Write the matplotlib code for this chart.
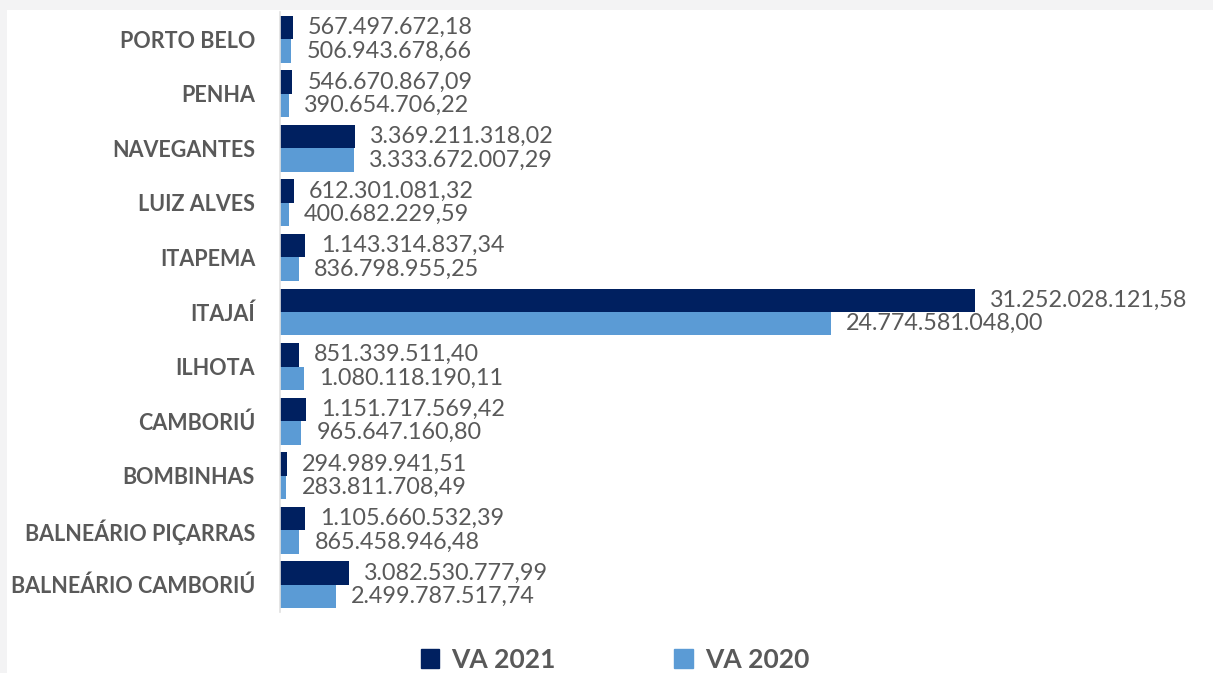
import matplotlib.pyplot as plt
from matplotlib.patches import Rectangle, Patch

municipios = ['PORTO BELO', 'PENHA', 'NAVEGANTES', 'LUIZ ALVES', 'ITAPEMA', 'ITAJAÍ',
              'ILHOTA', 'CAMBORIÚ', 'BOMBINHAS', 'BALNEÁRIO PIÇARRAS', 'BALNEÁRIO CAMBORIÚ']
va_2021 = [567497672.18, 546670867.09, 3369211318.02, 612301081.32, 1143314837.34,
           31252028121.58, 851339511.40, 1151717569.42, 294989941.51, 1105660532.39,
           3082530777.99]
va_2020 = [506943678.66, 390654706.22, 3333672007.29, 400682229.59, 836798955.25,
           24774581048.00, 1080118190.11, 965647160.80, 283811708.49, 865458946.48,
           2499787517.74]

DARK = '#002060'
LIGHT = '#5b9bd5'
TXT = '#595959'
FONT = 'Lato'


def fmt_br(v):
    s = f'{v:,.2f}'
    return s.replace(',', 'X').replace('.', ',').replace('X', '.')


fig = plt.figure(figsize=(12.13, 6.73), dpi=100)
fig.patch.set_facecolor('#f3f3f4')
fig.add_artist(Rectangle((7 / 1213, 0), 1, 1 - 10 / 673, transform=fig.transFigure,
                         facecolor='white', edgecolor='none', zorder=0))

ax = fig.add_axes([280 / 1213, 1 - 612 / 673, 1 - 280 / 1213, 600 / 673])
ax.set_facecolor('none')

h = 0.43
pos = list(range(len(municipios)))
b1 = ax.barh([p - h / 2 for p in pos], va_2021, height=h, color=DARK)
b2 = ax.barh([p + h / 2 for p in pos], va_2020, height=h, color=LIGHT)

for bars, vals in ((b1, va_2021), (b2, va_2020)):
    ax.bar_label(bars, labels=[fmt_br(v) for v in vals], padding=11,
                 fontsize=16.8, color=TXT, family=FONT)

ax.set_ylim(len(municipios) - 0.5, -0.5)
ax.set_xlim(0, 41.95e9)
ax.set_yticks(pos)
ax.set_yticklabels(municipios, fontsize=15.5, fontweight='bold', color=TXT, family=FONT)
ax.tick_params(axis='y', length=0, pad=18)
ax.set_xticks([])
for s in ['top', 'right', 'bottom']:
    ax.spines[s].set_visible(False)
ax.spines['left'].set_color('#e0e0e0')
ax.spines['left'].set_linewidth(1.2)

handles = [Patch(color=DARK), Patch(color=LIGHT)]
fig.legend(handles, ['VA 2021', 'VA 2020'], loc='center', bbox_to_anchor=(0.507, 0.02),
           ncol=2, frameon=False, handlelength=0.7, handleheight=0.7, handletextpad=0.45,
           columnspacing=4.5, prop={'family': FONT, 'weight': 'bold', 'size': 19},
           labelcolor=TXT)

fig.savefig('out.png', dpi=100, facecolor=fig.get_facecolor())
